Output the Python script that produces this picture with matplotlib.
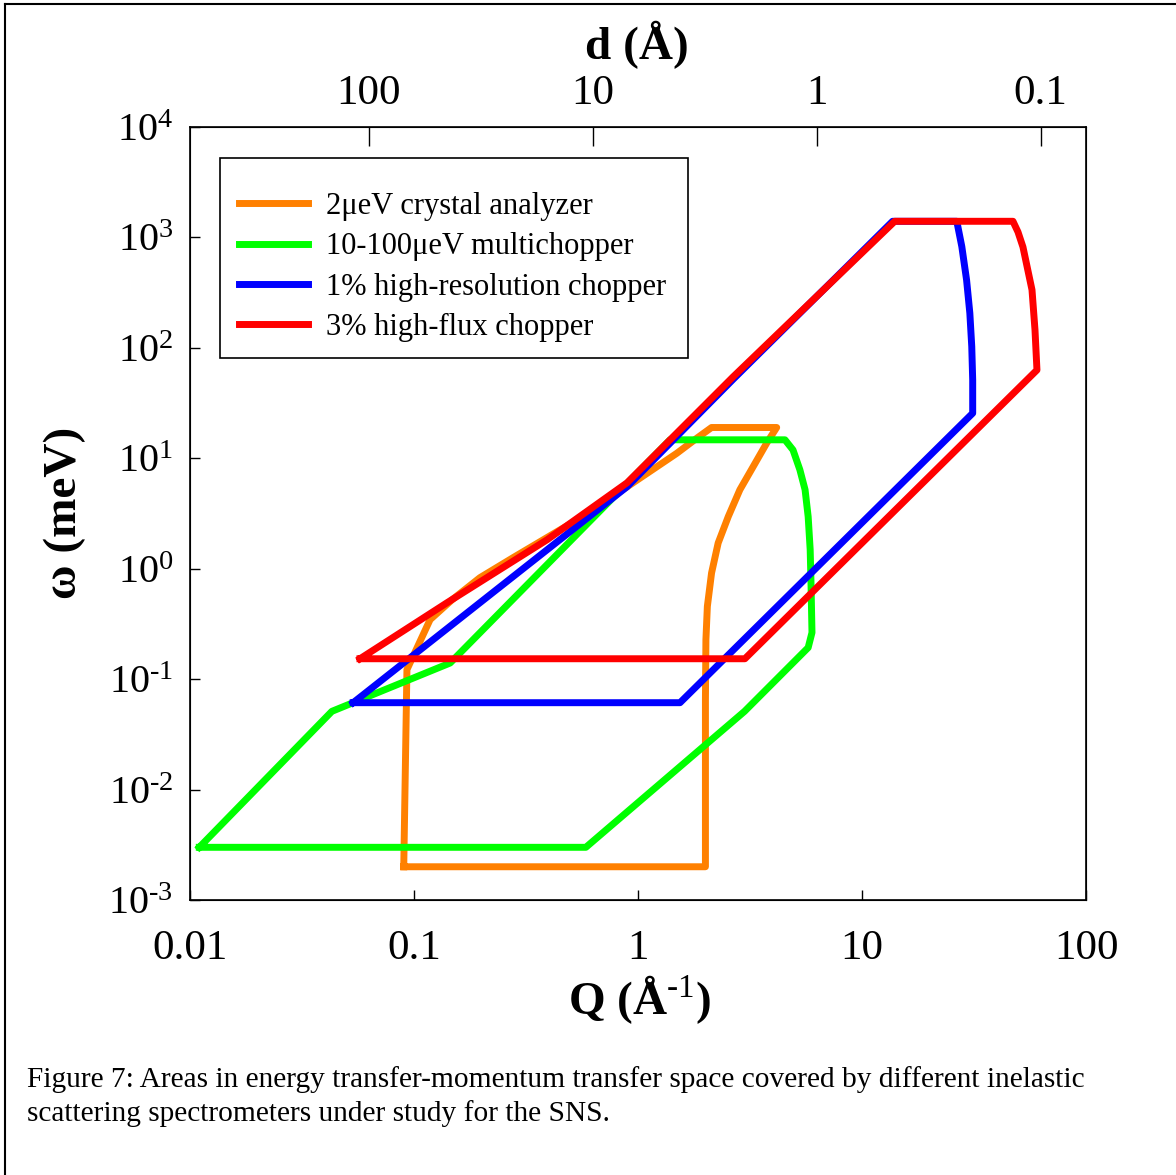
import numpy as np
import matplotlib
matplotlib.use("Agg")
import matplotlib.pyplot as plt
from matplotlib.lines import Line2D
from matplotlib.patches import Rectangle

plt.rcParams["font.family"] = ["Liberation Serif", "DejaVu Serif"]
plt.rcParams["mathtext.fontset"] = "custom"
plt.rcParams["mathtext.rm"] = "Liberation Serif"
plt.rcParams["mathtext.bf"] = "Liberation Serif:bold"

# Data: coverage outlines, Q (1/A) vs energy transfer (meV)
orange_q = [0.090, 0.093, 0.118, 0.148, 0.197, 0.277, 0.449, 0.676, 0.832, 1.13, 1.49, 1.83, 2.13,
            4.16, 3.76, 3.27, 2.85, 2.53, 2.28, 2.13, 2.04, 2.01, 2.00, 2.00, 0.090]
orange_w = [0.002, 0.122, 0.346, 0.524, 0.83, 1.26, 2.25, 3.66, 5.0, 7.6, 11.1, 15.2, 19.0,
            19.0, 13.8, 8.43, 5.19, 2.97, 1.71, 0.915, 0.456, 0.228, 0.065, 0.002, 0.002]

green_q = [0.0110, 0.0430, 0.145, 1.39, 4.53, 4.92, 5.28, 5.57, 5.75, 5.87, 5.92, 5.98, 5.75,
           2.99, 0.585, 0.0110]
green_w = [0.0030, 0.0511, 0.140, 14.7, 14.7, 11.9, 7.87, 5.19, 2.96, 1.49, 0.747, 0.264, 0.193,
           0.0511, 0.0030, 0.0030]

blue_q = [0.0535, 0.893, 2.66, 13.7, 26.5, 27.9, 29.3, 30.3, 30.9, 31.2, 31.2, 1.54, 0.0535]
blue_w = [0.0612, 5.52, 52, 1400, 1400, 826, 412, 206, 103, 51.3, 25.6, 0.0612, 0.0612]

red_q = [0.0574, 0.140, 0.393, 0.894, 2.66, 14.0, 47.2, 49.7, 52.3, 57.4, 59.2, 60.4, 3.0, 0.0574]
red_w = [0.153, 0.49, 1.83, 6.0, 54.7, 1400, 1400, 1120, 820, 335, 145, 63, 0.153, 0.153]

labels = [u"2\u03bceV crystal analyzer", u"10-100\u03bceV multichopper",
          "1% high-resolution chopper", "3% high-flux chopper"]
colors = ["#ff8000", "#00ff00", "#0000ff", "#ff0000"]

q_ticks = [0.01, 0.1, 1, 10, 100]
q_ticklabels = ["0.01", "0.1", "1", "10", "100"]
d_ticks = [100, 10, 1, 0.1]
d_ticklabels = ["100", "10", "1", "0.1"]
w_exp = [-3, -2, -1, 0, 1, 2, 3, 4]

# Plot
W, H = 1176, 1175
fig = plt.figure(figsize=(W/100, H/100), dpi=100)
ax = fig.add_axes([190/W, 1-900/H, 896/W, 773/H])

for qq, ww, c, lab in zip([orange_q, green_q, blue_q, red_q], [orange_w, green_w, blue_w, red_w], colors, labels):
    ax.plot(qq, ww, color=c, linewidth=5.0, label=lab)

ax.set_xscale("log")
ax.set_yscale("log")
ax.set_xlim(0.01, 100)
ax.set_ylim(1e-3, 1e4)
ax.set_xticks(q_ticks)
ax.set_xticklabels(q_ticklabels)
ax.set_yticks([10.0**e for e in w_exp])
ax.set_yticklabels([r"$\mathregular{10^{\text{%d}}}$" % e for e in w_exp])
ax.minorticks_off()
ax.tick_params("x", direction="in", length=7, width=1, labelsize=31, pad=21, top=False)
ax.tick_params("y", direction="in", length=7, width=1, labelsize=29, pad=12, right=False)
for s in ax.spines.values():
    s.set_linewidth(1.2)

ax2 = ax.twiny()
ax2.set_xscale("log")
ax2.set_xlim(2*np.pi/0.01, 2*np.pi/100)
ax2.set_xticks(d_ticks)
ax2.set_xticklabels(d_ticklabels)
ax2.minorticks_off()
ax2.tick_params("x", direction="in", length=14, width=1, labelsize=31, pad=10)

# legend box drawn by hand, entries placed inside it
ax.add_patch(Rectangle((30/896, 1-231/773), 468/896, 200/773, transform=ax.transAxes,
                       facecolor="white", edgecolor="black", linewidth=1.2, zorder=5))
leg = ax.legend(loc="upper left", bbox_to_anchor=(49/896, 1-65/773), borderaxespad=0,
                fontsize=22, frameon=False, handlelength=2.25,
                handletextpad=0.6, labelspacing=0.37, borderpad=0)
leg.set_zorder(6)

fig.text(637/W, 1-45/H, u"d (\u00c5)", fontsize=34, fontweight="bold", ha="center", va="center")
fig.text(640/W, 1-1000/H, u"Q (\u00c5$^{\\mathbf{\\text{-1}}}$)", fontsize=34, fontweight="bold",
         ha="center", va="center")
fig.text(65/W, 1-513/H, u"\u03c9 (meV)", fontsize=34, fontweight="bold", rotation=90,
         ha="center", va="center")

fig.text(27/W, 1-1087/H, "Figure 7: Areas in energy transfer-momentum transfer space covered by different inelastic",
         fontsize=21.2, ha="left", va="baseline")
fig.text(27/W, 1-1121/H, "scattering spectrometers under study for the SNS.",
         fontsize=21.2, ha="left", va="baseline")

# page frame (top and left edges)
fig.add_artist(Line2D([5/W, 5/W], [0, 1-4/H], transform=fig.transFigure, color="black", linewidth=1.5))
fig.add_artist(Line2D([5/W, 1], [1-4/H, 1-4/H], transform=fig.transFigure, color="black", linewidth=1.5))

plt.savefig("out.png", dpi=100)
